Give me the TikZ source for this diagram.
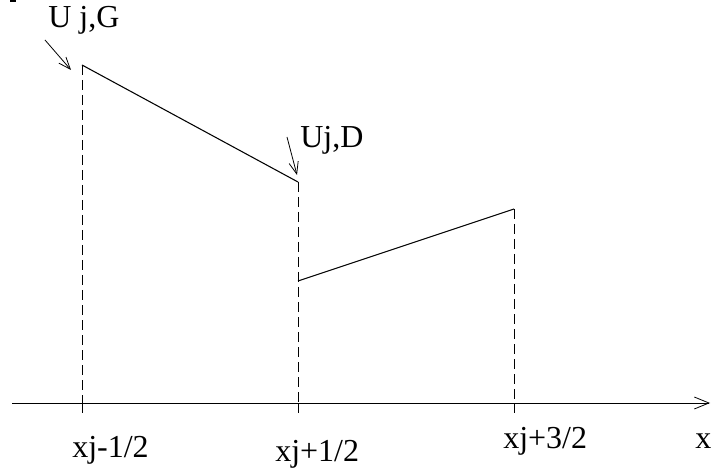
\documentclass[tikz,border=0pt]{standalone}
\usepackage{fontspec}
\setmainfont{Liberation Serif}
\usetikzlibrary{arrows.meta}
\begin{document}
\begin{tikzpicture}[x=0.75pt,y=-0.75pt,
  lbl/.style={font=\fontsize{24}{26}\selectfont, inner sep=0pt, anchor=base west},
  guide/.style={dash pattern=on 7.5pt off 3.75pt, line width=0.6pt},
  seg/.style={line width=0.8pt},
  pointer/.style={line width=0.6pt, -{Straight Barb[length=9pt,width=7pt]}}]
\useasboundingbox (0,0) rectangle (711,474);
\fill (10,0) rectangle (16,2);
% key points
\coordinate (a0) at (82,403);
\coordinate (b0) at (298,403);
\coordinate (c0) at (514,403);
\coordinate (a1) at (82,65);
\coordinate (b1) at (298,182);
\coordinate (b2) at (298,281);
\coordinate (c1) at (514,209);
\coordinate (at) at (82,413);
\coordinate (bt) at (298,413);
\coordinate (ct) at (514,413);
\coordinate (xs) at (12,403);
\coordinate (xe) at (710,403);
% axis
\draw[line width=0.6pt, -{Straight Barb[length=11pt,width=9pt]}] (xs) -- (xe);
% ticks
\draw[line width=0.6pt] (a0) -- (at);
\draw[line width=0.6pt] (b0) -- (bt);
\draw[line width=0.6pt] (c0) -- (ct);
% dashed guides
\draw[guide] (a1) -- (a0);
\draw[guide] (b1) -- (b0);
\draw[guide] (c1) -- (c0);
% segments
\draw[seg] (a1) -- (b1);
\draw[seg] (b2) -- (c1);
% labels
\node[lbl] (UG) at (48,28) {U j,G};
\node[lbl] (UD) at (300,148) {Uj,D};
\node[lbl] (L1) at (72,457) {xj-1/2};
\node[lbl] (L2) at (275,461) {xj+1/2};
\node[lbl] (L3) at (503,448) {xj+3/2};
\node[lbl] (LX) at (695,448) {x};
% pointers
\coordinate (pg0) at (45,40);
\coordinate (pd0) at (287,137);
\draw[pointer] (pg0) -- (71,70);
\draw[pointer] (pd0) -- (297,175);
\end{tikzpicture}
\end{document}
